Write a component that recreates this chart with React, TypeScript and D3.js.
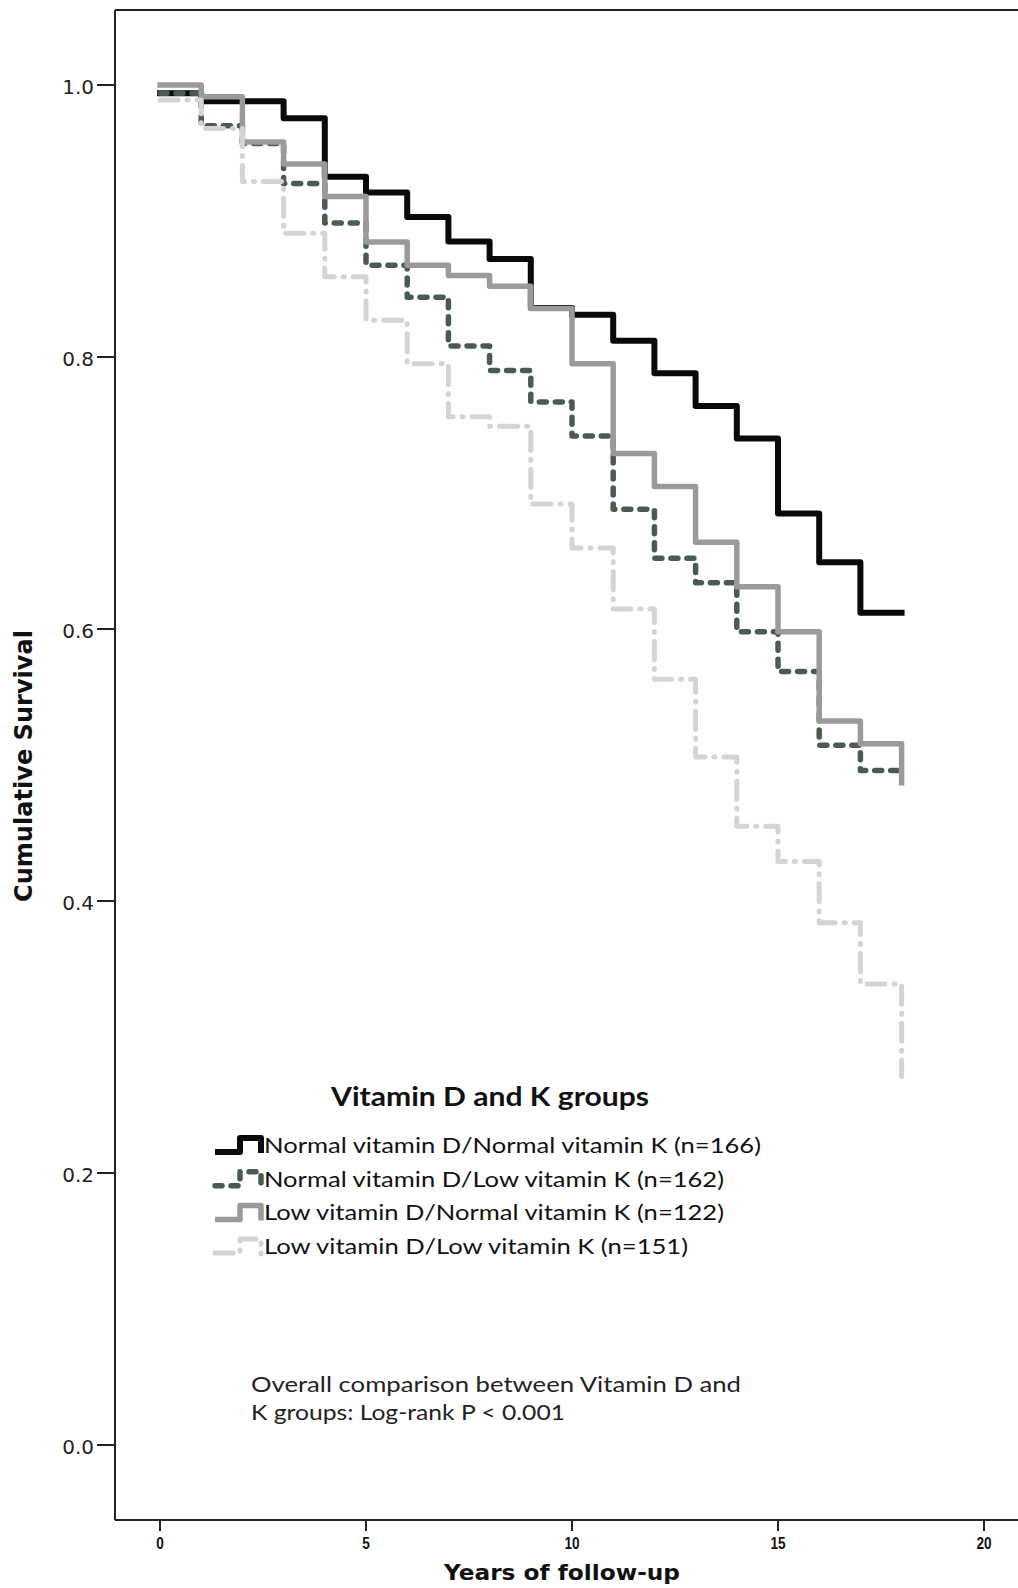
import React from "react";
import * as d3 from "d3";

const years = [0, 1, 2, 3, 4, 5, 6, 7, 8, 9, 10, 11, 12, 13, 14, 15, 16, 17, 18];
const normalDNormalK = [0.994, 0.988, 0.988, 0.9755, 0.9325, 0.921, 0.903, 0.885, 0.872, 0.836, 0.831, 0.812, 0.788, 0.764, 0.74, 0.685, 0.649, 0.612, 0.612];
const normalDLowK = [0.994, 0.97, 0.957, 0.9276, 0.8986, 0.8675, 0.844, 0.808, 0.79, 0.767, 0.742, 0.688, 0.652, 0.634, 0.598, 0.5687, 0.5145, 0.496, 0.496];
const lowDNormalK = [1.0, 0.9914, 0.958, 0.942, 0.918, 0.8846, 0.8675, 0.86, 0.852, 0.8356, 0.795, 0.729, 0.7047, 0.6637, 0.631, 0.598, 0.5324, 0.5157, 0.487];
const lowDLowK = [0.989, 0.968, 0.929, 0.891, 0.859, 0.827, 0.795, 0.756, 0.749, 0.692, 0.6596, 0.6147, 0.563, 0.5059, 0.455, 0.429, 0.384, 0.339, 0.271];

const seriesNames = [
  "Normal vitamin D/Normal vitamin K (n=166)",
  "Normal vitamin D/Low vitamin K (n=162)",
  "Low vitamin D/Normal vitamin K (n=122)",
  "Low vitamin D/Low vitamin K (n=151)",
];
const xTicks = [0, 5, 10, 15, 20];
const yTicks = [0, 0.2, 0.4, 0.6, 0.8, 1.0];

const seriesStyles = [
  { color: "#0a0a0a", width: 6, dash: undefined as string | undefined },
  { color: "#4a5c50", width: 5.5, dash: "7 9" },
  { color: "#9a9a9a", width: 5.5, dash: undefined as string | undefined },
  { color: "#d4d4d4", width: 5, dash: "18 9 1 9" },
];
const legendTextLengths = [497, 460, 460, 424];

export default function App() {
  const W = 1018;
  const H = 1588;
  const x = d3.scaleLinear().domain([0, 20]).range([160, 984]);
  const y = d3.scaleLinear().domain([0, 1]).range([1445, 85]);
  const line = d3
    .line<[number, number]>()
    .x((d) => x(d[0]))
    .y((d) => y(d[1]))
    .curve(d3.curveStepAfter);

  const allSeries = [normalDNormalK, normalDLowK, lowDNormalK, lowDLowK];
  const left = 115;
  const top = 10;
  const bottom = 1520;
  const legendBase = 1153;
  const legendStep = 33.7;

  return (
    <svg
      width={W}
      height={H}
      viewBox={`0 0 ${W} ${H}`}
      style={{ position: "absolute", left: 0, top: 0, display: "block", background: "#fff" }}
    >
      <rect x={0} y={0} width={W} height={H} fill="#fff" />
      {/* frame */}
      <line x1={left} x2={W} y1={top} y2={top} stroke="#222" strokeWidth={2} />
      <line x1={left} x2={left} y1={top} y2={bottom} stroke="#222" strokeWidth={2} />
      <line x1={left} x2={W} y1={bottom} y2={bottom} stroke="#222" strokeWidth={2} />

      {/* y ticks */}
      {yTicks.map((t) => (
        <g key={"y" + t}>
          <line x1={97} x2={left} y1={y(t)} y2={y(t)} stroke="#222" strokeWidth={2} />
          <text
            x={94}
            y={y(t) + 9}
            textAnchor="end"
            fontFamily="DejaVu Sans"
            fontSize={20}
            fill="#222"
          >
            {t.toFixed(1)}
          </text>
        </g>
      ))}

      {/* x ticks */}
      {xTicks.map((t) => (
        <g key={"x" + t}>
          <line x1={x(t)} x2={x(t)} y1={bottom} y2={bottom + 11} stroke="#222" strokeWidth={2} />
          <text
            transform={`translate(${x(t)},1549) scale(0.8,1)`}
            textAnchor="middle"
            fontFamily="Liberation Sans"
            fontWeight="bold"
            fontSize={17}
            fill="#111"
          >
            {t}
          </text>
        </g>
      ))}

      {/* axis titles */}
      <text
        x={562}
        y={1580}
        textAnchor="middle"
        fontFamily="DejaVu Sans"
        fontWeight="bold"
        fontSize={22}
        fill="#111"
        textLength={236}
        lengthAdjust="spacingAndGlyphs"
      >
        Years of follow-up
      </text>
      <text
        transform={`translate(32,766) rotate(-90)`}
        textAnchor="middle"
        fontFamily="DejaVu Sans"
        fontWeight="bold"
        fontSize={24}
        fill="#111"
        textLength={272}
        lengthAdjust="spacingAndGlyphs"
      >
        Cumulative Survival
      </text>

      {/* curves */}
      {allSeries.map((vals, i) => {
        const pts: [number, number][] = years.map((t, j) => [t, vals[j]]);
        const st = seriesStyles[i];
        return (
          <path
            key={"s" + i}
            d={line(pts) || ""}
            fill="none"
            stroke={st.color}
            strokeWidth={st.width}
            strokeDasharray={st.dash}
            strokeLinecap={st.dash ? "round" : "square"}
            strokeLinejoin="round"
          />
        );
      })}

      {/* legend */}
      <text
        x={331}
        y={1106}
        fontFamily="Lato"
        fontWeight="bold"
        fontSize={27}
        fill="#111"
        textLength={318}
        lengthAdjust="spacingAndGlyphs"
      >
        Vitamin D and K groups
      </text>
      {seriesNames.map((name, i) => {
        const b = legendBase + i * legendStep;
        const st = seriesStyles[i];
        return (
          <g key={"l" + i}>
            <path
              d={`M215,${b - 1} H240 V${b - 15} H261 V${b}`}
              fill="none"
              stroke={st.color}
              strokeWidth={st.width}
              strokeDasharray={st.dash}
              strokeLinecap={st.dash ? "round" : "butt"}
              strokeLinejoin="round"
            />
            <text
              x={264}
              y={b}
              fontFamily="Lato"
              fontSize={21.5}
              fill="#111"
              textLength={legendTextLengths[i]}
              lengthAdjust="spacingAndGlyphs"
            >
              {name}
            </text>
          </g>
        );
      })}

      {/* annotation */}
      <text
        x={251}
        y={1392}
        fontFamily="Lato"
        fontSize={21.5}
        fill="#222"
        textLength={490}
        lengthAdjust="spacingAndGlyphs"
      >
        Overall comparison between Vitamin D and
      </text>
      <text
        x={251}
        y={1420}
        fontFamily="Lato"
        fontSize={21.5}
        fill="#222"
        textLength={314}
        lengthAdjust="spacingAndGlyphs"
      >
        K groups: Log-rank P &lt; 0.001
      </text>
    </svg>
  );
}
